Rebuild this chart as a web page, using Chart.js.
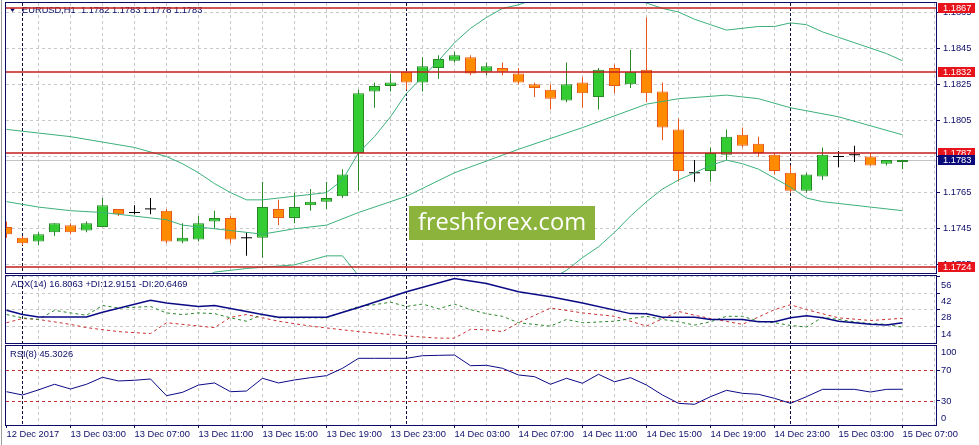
<!DOCTYPE html>
<html>
<head>
<meta charset="utf-8">
<title>EURUSD H1</title>
<script src="https://cdn.jsdelivr.net/npm/chart.js@4.4.1/dist/chart.umd.min.js"></script>
<style>
  html, body { margin: 0; padding: 0; background: #fff; overflow: hidden; }
  #wrap { position: relative; width: 979px; height: 445px; }
  #wrap canvas { position: absolute; left: 0; }
  #edge { position: absolute; left: 1px; top: 0; width: 1px; height: 445px; background: #9a9a9a; }
</style>
</head>
<body>
<div id="wrap">
  <canvas id="mainChart" width="979" height="274" style="top:0"></canvas>
  <canvas id="adxChart" width="979" height="70" style="top:274px"></canvas>
  <canvas id="rsiChart" width="979" height="101" style="top:344px"></canvas>
  <div id="edge"></div>
</div>
<script>
// EURUSD H1, 12 Dec 23:00 .. 15 Dec 07:00, one value per candle
const candleOpen = [
  1.1746, 1.1740, 1.1738, 1.1743, 1.1747, 1.1744, 1.1746, 1.1756, 1.1754, 1.1756,
  1.1755, 1.1738, 1.1739, 1.1749, 1.1751, 1.1740, 1.1740, 1.1756, 1.1751, 1.1758,
  1.1760, 1.1763, 1.1787, 1.1821, 1.1824, 1.1832, 1.1826, 1.1834, 1.1838, 1.1840,
  1.1832, 1.1834, 1.1831, 1.1825, 1.1822, 1.1816, 1.1826, 1.1818, 1.1834, 1.1825,
  1.1833, 1.1821, 1.1800, 1.1776, 1.1777, 1.1786, 1.1797, 1.1792, 1.1786, 1.1776,
  1.1766, 1.1774, 1.1785, 1.1786, 1.1785, 1.1781, 1.1782];
const candleHigh = [
  1.1749, 1.1741, 1.1743, 1.1748, 1.1748, 1.1749, 1.1762, 1.1756, 1.1758, 1.1762,
  1.1756, 1.1748, 1.1752, 1.1755, 1.1752, 1.1743, 1.1771, 1.1761, 1.1765, 1.1767,
  1.1771, 1.1778, 1.1822, 1.1826, 1.1831, 1.1832, 1.1840, 1.1841, 1.1843, 1.1841,
  1.1837, 1.1837, 1.1834, 1.1826, 1.1825, 1.1837, 1.1829, 1.1834, 1.1836, 1.1844,
  1.1862, 1.1826, 1.1806, 1.1783, 1.1790, 1.1800, 1.1801, 1.1796, 1.1787, 1.1780,
  1.1776, 1.1790, 1.1788, 1.1791, 1.1787, 1.1783, 1.1783];
const candleLow = [
  1.1740, 1.1736, 1.1736, 1.1741, 1.1742, 1.1743, 1.1746, 1.1752, 1.1753, 1.1753,
  1.1737, 1.1737, 1.1738, 1.1745, 1.1737, 1.1730, 1.1729, 1.1747, 1.1748, 1.1755,
  1.1756, 1.1762, 1.1766, 1.1812, 1.1821, 1.1822, 1.1821, 1.1828, 1.1837, 1.1830,
  1.1830, 1.1830, 1.1825, 1.1818, 1.1811, 1.1815, 1.1812, 1.1811, 1.1820, 1.1823,
  1.1815, 1.1794, 1.1771, 1.1771, 1.1771, 1.1783, 1.1790, 1.1785, 1.1775, 1.1765,
  1.1765, 1.1772, 1.1779, 1.1782, 1.1780, 1.1780, 1.1778];
const candleClose = [
  1.1742, 1.1737, 1.1742, 1.1748, 1.1743, 1.1748, 1.1758, 1.1753, 1.1754, 1.1756,
  1.1738, 1.1740, 1.1748, 1.1751, 1.1739, 1.1740, 1.1757, 1.1751, 1.1757, 1.1760,
  1.1762, 1.1775, 1.1820, 1.1824, 1.1826, 1.1826, 1.1835, 1.1839, 1.1841, 1.1831,
  1.1835, 1.1832, 1.1826, 1.1823, 1.1817, 1.1825, 1.1820, 1.1833, 1.1824, 1.1832,
  1.1820, 1.1801, 1.1777, 1.1776, 1.1787, 1.1796, 1.1791, 1.1787, 1.1777, 1.1766,
  1.1775, 1.1786, 1.1785, 1.1786, 1.1780, 1.1783, 1.1783];

// Bollinger bands, read where visible (null = not read)
const bbUpper = [
  1.1800, 1.1799, 1.1798, null, 1.1796, null, 1.1793, null, 1.1790, null,
  1.1785, 1.1781, 1.1776, 1.1770, 1.1765, 1.1761, 1.1761, null, 1.1763, null,
  1.1765, 1.1772, 1.1787, 1.1796, 1.1807, 1.1820, 1.1829, 1.1838, 1.1848, 1.1856,
  1.1862, 1.1867, 1.1869, 1.1872, null, 1.1874, null, 1.1875, null, 1.1872,
  1.1870, 1.1867, 1.1865, 1.1861, 1.1858, 1.1855, 1.1856, 1.1857, 1.1857, 1.1859,
  1.1858, 1.1854, 1.1851, 1.1848, 1.1845, 1.1842, 1.1838];
const bbMiddle = [
  1.1760, null, 1.1757, null, 1.1755, null, 1.1754, null, 1.1752, null,
  1.1750, 1.1747, 1.1746, null, 1.1744, null, 1.1742, null, 1.1745, null,
  1.1747, null, 1.1754, null, 1.1760, 1.1763, null, null, 1.1776, null,
  null, null, 1.1789, null, null, null, 1.1801, null, null, null,
  1.1814, null, 1.1817, null, null, 1.1819, null, 1.1817, null, 1.1812,
  null, null, 1.1807, null, null, null, 1.1797];
const bbLower = [
  1.1720, null, null, null, 1.1714, null, null, null, 1.1714, null,
  null, null, 1.1716, 1.1721, null, 1.1723, null, null, 1.1725, null,
  1.1730, 1.1730, 1.1719, 1.1712, null, 1.1706, null, null, 1.1704, null,
  null, 1.1706, null, 1.1712, 1.1717, 1.1722, 1.1729, 1.1735, 1.1743, 1.1752,
  1.1760, 1.1767, 1.1772, 1.1776, 1.1780, 1.1783, 1.1781, 1.1778, 1.1773, 1.1768,
  1.1762, 1.1760, 1.1759, null, 1.1757, null, 1.1755];

// ADX(14)
const adxMain = [
  27.4, 23.8, 21.8, null, null, 21.8, 25.7, null, null, 36.1,
  33.6, null, 30.7, 31.6, null, null, 23.8, 21.5, null, null,
  21.5, null, 29.9, null, null, 43.3, null, null, 54.6, null,
  50.4, null, 43.3, null, 39.1, null, 33.6, null, null, 24.6,
  24.4, 21.5, null, 21.5, 19.6, null, 19.6, 17.6, 17.6, 21.0,
  22.7, 21.0, 18.1, null, 15.4, 14.8, 16.8];
const plusDI = [
  23.8, 21.0, 19.6, 27.4, 25.2, 23.2, 31.6, 29.4, null, 30.7,
  25.2, 23.8, 25.2, 24.6, 21.0, 18.1, 23.8, 21.0, 21.0, null,
  21.0, null, 30.7, 32.2, 34.4, 30.7, 32.8, 28.8, 32.8, 28.0,
  24.5, 22.3, 16.8, null, 13.9, 19.6, 16.8, null, 18.1, null,
  22.3, 19.6, 17.6, 14.8, 17.6, 22.3, 22.3, 18.1, 16.8, 14.5,
  13.1, 21.5, 19.6, 17.6, 16.0, 15.4, 12.9];
const minusDI = [
  16.8, 20.4, 19.6, null, 15.4, 12.6, null, 9.2, null, 7.5,
  16.8, null, null, 12.6, 21.5, 23.8, 21.0, 18.1, null, 13.9,
  null, null, 9.2, null, null, 5.5, null, 3.6, 3.6, 11.2,
  10.7, 9.2, 16.8, null, 29.4, null, 25.2, null, 22.3, null,
  13.9, null, 26.5, 23.2, 20.4, null, 15.4, null, 28.0, 32.2,
  28.0, null, 21.0, null, 18.7, null, 20.6];

// RSI(8)
const rsi8 = [
  42.1, 37.8, 44.5, 51.8, 45.6, 51.8, 60.9, 56.1, 57.0, 58.7,
  36.9, 41.3, 50.8, 53.5, 42.1, 43.0, 59.6, 53.5, 57.4, 60.4,
  63.0, 72.6, 85.6, 85.6, 85.6, 85.6, 89.0, 89.5, 89.9, 76.0,
  76.5, 72.6, 63.9, 61.7, 51.8, 59.6, 53.1, 64.8, 55.1, 60.4,
  50.8, 37.8, 27.0, 25.7, 35.6, 43.9, 40.0, 38.7, 33.5, 27.0,
  35.6, 45.2, 45.2, 45.2, 41.7, 45.2, 45.3];

const levels = [1.1867, 1.1832, 1.1787, 1.1724];
const priceTicks = [1.1725, 1.1745, 1.1765, 1.1785, 1.1805, 1.1825, 1.1845, 1.1865];
const adxTicks = [14, 28, 42, 56];
const rsiLevels = [30, 70];
const rsiTicks = [0, 30, 70, 100];
const timeTicks = [0, 4, 8, 12, 16, 20, 24, 28, 32, 36, 40, 44, 48, 52, 56];
const timeLabels = ['12 Dec 2017', '13 Dec 03:00', '13 Dec 07:00', '13 Dec 11:00', '13 Dec 15:00',
  '13 Dec 19:00', '13 Dec 23:00', '14 Dec 03:00', '14 Dec 07:00', '14 Dec 11:00', '14 Dec 15:00',
  '14 Dec 19:00', '14 Dec 23:00', '15 Dec 03:00', '15 Dec 07:00'];
const daySeparators = [1, 25, 49];

// styles
const navy = '#0c0c68';
const gridGrey = '#c9c9c9';
const fontFamily = '"Liberation Sans", Arial, sans-serif';
const bullFill = '#33cc33', bullLine = '#278a27';
const bearFill = '#ff8c00', bearLine = '#e8581a';
const bandColor = '#3cb07a';
const levelRed = '#c41e1e';
const clear = 'rgba(0,0,0,0)';

const lastPrice = candleClose[candleClose.length - 1];
const idx = candleOpen.map((_, i) => i);
const isDoji = i => candleOpen[i] === candleClose[i];
const bodyIdx = idx.filter(i => !isDoji(i));
const pts = arr => arr.map((v, i) => v === null ? null : { x: i, y: v }).filter(p => p);

const xMin = -0.03125, xMax = 58.09375;
const gridIdx = [];
for (let i = 0; i <= 58; i += 2) gridIdx.push(i);

function xAxis(showLabels) {
  return {
    type: 'linear', min: xMin, max: xMax, offset: false,
    afterBuildTicks: s => { s.ticks = gridIdx.map(v => ({ value: v })); },
    afterFit: s => { s.height = showLabels ? 20 : 0; s.paddingLeft = 0; s.paddingRight = 0; },
    grid: {
      offset: false,
      color: c => (c.tick && c.tick.value === 0) ? clear : gridGrey,
      drawTicks: showLabels, tickLength: 3, tickBorderDash: [],
      tickColor: c => (c.tick && timeTicks.includes(c.tick.value)) ? navy : clear
    },
    border: { display: false, dash: [3, 3] },
    ticks: {
      display: showLabels, autoSkip: false, maxRotation: 0, minRotation: 0,
      align: 'start', padding: 1, color: navy,
      font: { family: fontFamily, size: 9.3 },
      callback: v => { const k = timeTicks.indexOf(v); return k < 0 ? '' : timeLabels[k]; }
    }
  };
}

function yAxis(min, max, ticks, opts) {
  return Object.assign({
    position: 'right', min: min, max: max,
    afterBuildTicks: s => { s.ticks = ticks.map(v => ({ value: v })); },
    afterFit: s => { s.width = 43; s.paddingTop = 0; s.paddingBottom = 0; },
    grid: { color: gridGrey, tickLength: 4, tickColor: navy, tickBorderDash: [] },
    border: { display: false, dash: [3, 3] },
    ticks: { color: navy, padding: 3, font: { family: fontFamily, size: 9.3 } }
  }, opts);
}

function hLine(ctx, a, py, l) {
  const y = l.width === 1 ? Math.round(py) + 0.5 : Math.round(py);
  ctx.strokeStyle = l.color; ctx.lineWidth = l.width; ctx.setLineDash(l.dash || []);
  ctx.beginPath(); ctx.moveTo(a.left, y); ctx.lineTo(a.right, y); ctx.stroke();
}

function makeDecor(cfg) {
  return {
    id: 'decor',
    beforeDatasetsDraw(chart) {
      const { ctx, chartArea: a, scales: { x, y } } = chart;
      ctx.save();
      ctx.beginPath(); ctx.rect(a.left, a.top, a.right - a.left, a.bottom - a.top); ctx.clip();
      (cfg.under || []).forEach(l => hLine(ctx, a, y.getPixelForValue(l.value), l));
      ctx.strokeStyle = '#101040'; ctx.lineWidth = 1; ctx.setLineDash([3, 2]);
      daySeparators.forEach(i => {
        const px = Math.round(x.getPixelForValue(i) - 0.5) + 0.5;
        ctx.beginPath(); ctx.moveTo(px, a.top); ctx.lineTo(px, a.bottom); ctx.stroke();
      });
      ctx.restore();
    },
    afterDatasetsDraw(chart) {
      const { ctx, chartArea: a, scales: { y } } = chart;
      ctx.save();
      if (cfg.watermark) {
        const w = cfg.watermark;
        ctx.fillStyle = '#8cb33c';
        ctx.fillRect(w.x, w.y, w.w, w.h);
        ctx.font = '24px "Open Sans", sans-serif';
        const s = 24 * w.textW / ctx.measureText(w.text).width;
        ctx.font = s.toFixed(1) + 'px "Open Sans", sans-serif';
        ctx.fillStyle = '#ffffff'; ctx.textAlign = 'center'; ctx.textBaseline = 'middle';
        ctx.fillText(w.text, w.x + w.w / 2, w.y + w.h / 2);
      }
      ctx.font = '9.3px ' + fontFamily; ctx.fillStyle = navy;
      ctx.textAlign = 'left'; ctx.textBaseline = 'middle';
      if (cfg.arrow) {
        ctx.beginPath(); ctx.moveTo(10, 8.5); ctx.lineTo(15, 8.5); ctx.lineTo(12.5, 12); ctx.closePath(); ctx.fill();
      }
      ctx.fillText(cfg.title, cfg.titleX, cfg.titleY);
      ctx.beginPath(); ctx.rect(a.left, a.top, a.right - a.left, a.bottom - a.top); ctx.clip();
      (cfg.over || []).forEach(l => hLine(ctx, a, y.getPixelForValue(l.value), l));
      ctx.restore();
    },
    afterDraw(chart) {
      const { ctx, chartArea: a, scales: { y } } = chart;
      ctx.save();
      ctx.strokeStyle = navy; ctx.lineWidth = 1;
      ctx.strokeRect(a.left - 0.5, a.top - 0.5, a.right - a.left + 1, a.bottom - a.top + 1);
      ctx.font = '9.3px ' + fontFamily; ctx.textAlign = 'left'; ctx.textBaseline = 'middle';
      (cfg.sideLabels || []).forEach(v => {
        const py = Math.min(Math.max(y.getPixelForValue(v), a.top + 6), a.bottom - 7);
        ctx.fillStyle = navy; ctx.fillText(String(v), a.right + 5, py);
      });
      (cfg.tags || []).forEach(t => {
        const py = Math.round(y.getPixelForValue(t.value));
        ctx.fillStyle = t.bg; ctx.fillRect(a.right + 2, py - 5, 37, 10);
        ctx.fillStyle = '#ffffff'; ctx.fillText(t.value.toFixed(4), a.right + 7, py + 0.5);
      });
      ctx.restore();
    }
  };
}

const common = {
  responsive: false, animation: false, events: [],
  plugins: { legend: { display: false }, tooltip: { enabled: false } }
};

// main price panel
new Chart(document.getElementById('mainChart'), {
  type: 'bar',
  data: {
    datasets: [
      { type: 'line', data: pts(bbUpper), borderColor: bandColor, borderWidth: 1, pointRadius: 0, order: 0 },
      { type: 'line', data: pts(bbMiddle), borderColor: bandColor, borderWidth: 1, pointRadius: 0, order: 0 },
      { type: 'line', data: pts(bbLower), borderColor: bandColor, borderWidth: 1, pointRadius: 0, order: 0 },
      {
        type: 'line', data: idx.filter(isDoji).map(i => ({ x: i, y: candleOpen[i] })),
        showLine: false, pointStyle: 'line', pointRadius: 5.5,
        pointBorderColor: '#000', pointBorderWidth: 1, order: 1
      },
      {
        type: 'bar', data: bodyIdx.map(i => ({ x: i, y: [candleOpen[i], candleClose[i]] })),
        backgroundColor: bodyIdx.map(i => candleClose[i] > candleOpen[i] ? bullFill : bearFill),
        borderColor: bodyIdx.map(i => candleClose[i] > candleOpen[i] ? bullLine : bearLine),
        borderWidth: 1, borderSkipped: false, barThickness: 11, grouped: false, inflateAmount: 0, order: 2
      },
      {
        type: 'bar', data: idx.map(i => ({ x: i, y: [candleLow[i], candleHigh[i]] })),
        backgroundColor: idx.map(i => isDoji(i) ? '#000' : (candleClose[i] > candleOpen[i] ? bullLine : bearLine)),
        borderWidth: 0, barThickness: 1, grouped: false, inflateAmount: 0, order: 3
      }
    ]
  },
  options: Object.assign({}, common, {
    layout: { autoPadding: false, padding: { left: 6, top: 3, right: 0, bottom: 1 } },
    scales: {
      x: xAxis(false),
      y: yAxis(1.17205, 1.18700, priceTicks, {}),
    }
  }),
  plugins: [makeDecor({
    title: 'EURUSD,H1  1.1782 1.1783 1.1778 1.1783', titleX: 22, titleY: 10, arrow: true,
    under: [{ value: lastPrice, color: '#c4c4c4', width: 1 }],
    over: levels.map(v => ({ value: v, color: levelRed, width: 1.5 })),
    tags: levels.map(v => ({ value: v, bg: '#e8141c' })).concat([{ value: lastPrice, bg: '#0a0a78' }]),
    watermark: { x: 409, y: 206, w: 186, h: 34, text: 'freshforex.com', textW: 168 }
  })]
});
// y tick labels of the main axis
Chart.getChart('mainChart').options.scales.y.ticks.callback = v => v.toFixed(4);
Chart.getChart('mainChart').update();

// ADX panel
new Chart(document.getElementById('adxChart'), {
  type: 'line',
  data: {
    datasets: [
      { data: pts(adxMain), borderColor: '#0a0a86', borderWidth: 1.5, pointRadius: 0 },
      { data: pts(plusDI), borderColor: '#2a862a', borderWidth: 1, borderDash: [3, 3], pointRadius: 0 },
      { data: pts(minusDI), borderColor: '#cc3030', borderWidth: 1, borderDash: [3, 3], pointRadius: 0 }
    ]
  },
  options: Object.assign({}, common, {
    layout: { autoPadding: false, padding: { left: 6, top: 2, right: 0, bottom: 1 } },
    scales: {
      x: xAxis(false),
      y: yAxis(-0.55, 56.8, adxTicks, {
        ticks: { color: navy, padding: 1, labelOffset: 8, font: { family: fontFamily, size: 9.3 } }
      })
    }
  }),
  plugins: [makeDecor({ title: 'ADX(14) 16.8063 +DI:12.9151 -DI:20.6469', titleX: 11, titleY: 10.5 })]
});

// RSI panel
new Chart(document.getElementById('rsiChart'), {
  type: 'line',
  data: {
    datasets: [
      { data: pts(rsi8), borderColor: '#0a0a86', borderWidth: 1, pointRadius: 0 }
    ]
  },
  options: Object.assign({}, common, {
    layout: { autoPadding: false, padding: { left: 6, top: 2, right: 0, bottom: 0 } },
    scales: {
      x: xAxis(true),
      y: yAxis(-1.27, 101.66, rsiLevels, {
        grid: { color: clear, tickLength: 4, tickColor: navy, tickBorderDash: [] },
        ticks: { display: false }
      })
    }
  }),
  plugins: [makeDecor({
    title: 'RSI(8) 45.3026', titleX: 10, titleY: 10.5,
    under: rsiLevels.map(v => ({ value: v, color: '#c83030', width: 1, dash: [3, 3] })),
    sideLabels: rsiTicks.slice().reverse()
  })]
});
</script>
</body>
</html>
